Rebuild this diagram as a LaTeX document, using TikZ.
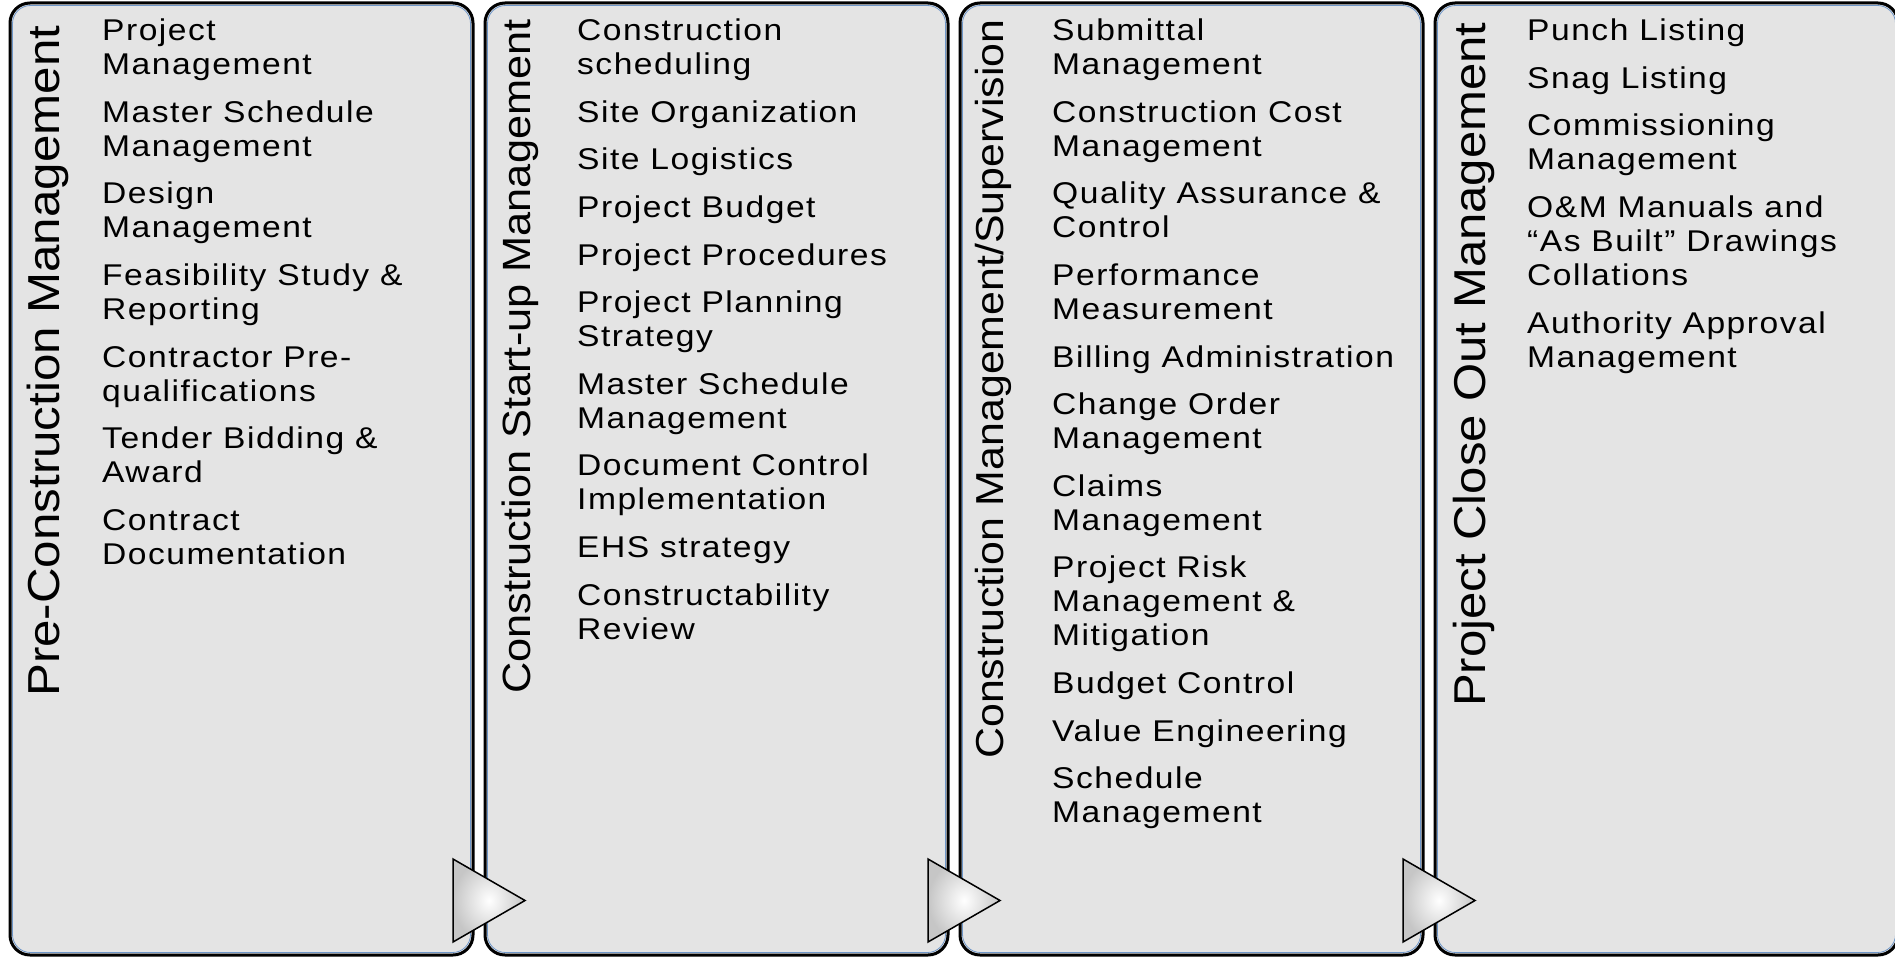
\documentclass[tikz,border=0pt]{standalone}
\usepackage{fontspec}
\usetikzlibrary{positioning,calc}
\newfontfamily\panelfont[FakeStretch=1.12,LetterSpace=5]{Liberation Sans}
\newfontfamily\headfont[FakeStretch=1.1]{Liberation Sans}
\definecolor{panelgray}{HTML}{E4E4E4}
\definecolor{rimblue}{RGB}{110,150,200}
\tikzset{%
  panel/.style    = {draw, line width = 3pt, fill = panelgray, rounded corners = 20pt,
    minimum width = 463pt, minimum height = 952pt, outer sep = 0pt}, % Phase box
  rim/.style      = {draw = rimblue, line width = 0.8pt, rounded corners = 18pt}, % Inner edge
  heading/.style  = {rotate = 90, anchor = base west, inner sep = 0pt,
    font = \headfont\fontsize{#1}{#1}\selectfont}, % Phase title
  item/.style     = {align = left, inner sep = 0pt, anchor = north west,
    font = \panelfont\fontsize{30}{34}\selectfont,
    execute at end node = \strut}, % Task
  under/.style    = {below = 13.2pt of #1.south west, anchor = north west}, % Next task
  arrowtip/.style = {draw, line width = 1.5pt, line join = miter,
    inner color = white, outer color = gray!45} % Phase arrow
}

\begin{document}
\begin{tikzpicture}[x=1pt, y=-1pt]
        \useasboundingbox (0,0) rectangle (1895,958);

        \foreach \i in {1,...,4}
            \node [panel] (p\i) at ({241.5+475*(\i-1)},479) {};
        \foreach \i in {1,...,4}
            \draw [rim] ($(p\i.north west)+(2.5,2.5)$) rectangle ($(p\i.south east)+(-2.5,-2.5)$);

        \node [heading=44.8] (t1) at (59,697) {Pre-Construction Management};
        \node [heading=39.4] (t2) at (530,694) {Construction Start-up Management};
        \node [heading=39.0] (t3) at (1003,759) {Construction Management/Supervision};
        \node [heading=44.6] (t4) at (1485,707) {Project Close Out Management};

        % Pre-construction
        \node [item] (p1i0) at ($(p1.north west)+(92,13.6)$) {\strut Project\\Management};
        \foreach \txt [count=\j, remember=\j as \k (initially 0)] in
            {Master Schedule\\Management, Design\\Management, Feasibility Study \&\\Reporting,
             Contractor Pre-\\qualifications, Tender Bidding \&\\Award, Contract\\Documentation}
            \node [item, under=p1i\k] (p1i\j) {\strut\txt};

        % Start-up
        \node [item] (p2i0) at ($(p2.north west)+(92,13.6)$) {\strut Construction\\scheduling};
        \foreach \txt [count=\j, remember=\j as \k (initially 0)] in
            {Site Organization, Site Logistics, Project Budget, Project Procedures,
             Project Planning\\Strategy, Master Schedule\\Management,
             Document Control\\Implementation, EHS strategy, Constructability\\Review}
            \node [item, under=p2i\k] (p2i\j) {\strut\txt};

        % Supervision
        \node [item] (p3i0) at ($(p3.north west)+(92,13.6)$) {\strut Submittal\\Management};
        \foreach \txt [count=\j, remember=\j as \k (initially 0)] in
            {Construction Cost\\Management, Quality Assurance \&\\Control,
             Performance\\Measurement, Billing Administration, Change Order\\Management,
             Claims\\Management, Project Risk\\Management \&\\Mitigation, Budget Control,
             Value Engineering, Schedule\\Management}
            \node [item, under=p3i\k] (p3i\j) {\strut\txt};

        % Close out
        \node [item] (p4i0) at ($(p4.north west)+(92,13.6)$) {\strut Punch Listing};
        \foreach \txt [count=\j, remember=\j as \k (initially 0)] in
            {Snag Listing, Commissioning\\Management,
             O\&M Manuals and\\“As Built” Drawings\\Collations, Authority Approval\\Management}
            \node [item, under=p4i\k] (p4i\j) {\strut\txt};

        \foreach \i in {1,2,3}
            \path [arrowtip] ($(p\i.south east)+(-20,-96)$) -- ++(0,83) -- ++(72,-41.5) -- cycle;
\end{tikzpicture}
\end{document}
